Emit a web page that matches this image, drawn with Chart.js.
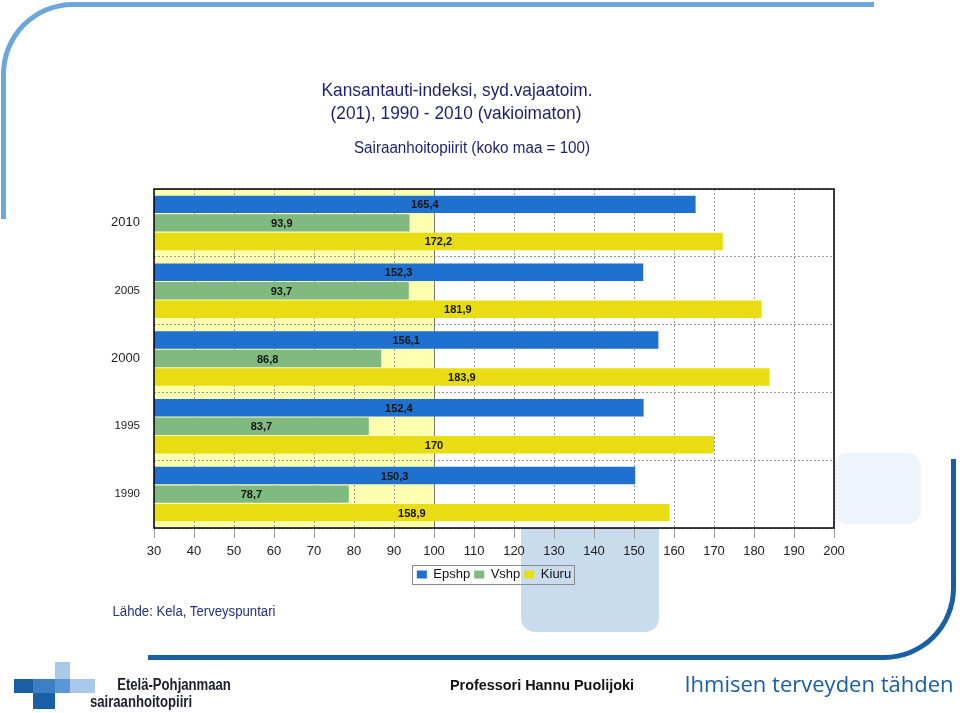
<!DOCTYPE html>
<html>
<head>
<meta charset="utf-8">
<script src="https://cdn.jsdelivr.net/npm/chart.js@4.4.1/dist/chart.umd.min.js"></script>
<style>
  html, body { margin: 0; padding: 0; background: #fff; }
  body { width: 960px; height: 713px; position: relative; overflow: hidden; font-family: 'Liberation Sans', Arial, sans-serif; }
  .deco { position: absolute; z-index: 0; }
  .txt { position: absolute; z-index: 2; white-space: nowrap; line-height: 1; }
  #c { position: absolute; left: 0; top: 0; z-index: 1; }
</style>
</head>
<body>
<!-- slide frame -->
<div class="deco" style="left:1px;top:2px;width:868px;height:212px;border-top:5px solid #6ba7da;border-left:5px solid #6ba7da;border-top-left-radius:72px;"></div>
<div class="deco" style="left:148px;top:459px;width:803px;height:196px;border-right:5px solid #1a5fa5;border-bottom:5px solid #1a5fa5;border-bottom-right-radius:72px;"></div>
<div class="deco" style="left:833px;top:453px;width:88px;height:71px;background:#eef4fb;border-radius:14px;"></div>
<div class="deco" style="left:521px;top:500px;width:138px;height:132px;background:#c9dcee;border-radius:14px;"></div>

<!-- logo -->
<div class="deco" style="left:55px;top:662px;width:15px;height:17px;background:#a9c8ea;"></div>
<div class="deco" style="left:14px;top:679px;width:19px;height:14px;background:#1a5fa5;"></div>
<div class="deco" style="left:33px;top:679px;width:22px;height:14px;background:#3b7fc4;"></div>
<div class="deco" style="left:55px;top:679px;width:15px;height:14px;background:#5b98d4;"></div>
<div class="deco" style="left:70px;top:679px;width:25px;height:14px;background:#a9c8ea;"></div>
<div class="deco" style="left:33px;top:693px;width:22px;height:16px;background:#1a5fa5;"></div>

<div class="txt" style="left:457px;top:80px;font-size:19px;color:#1f1f6e;transform:translateX(-50%) scaleX(0.91);">Kansantauti-indeksi, syd.vajaatoim.</div>
<div class="txt" style="left:456px;top:103px;font-size:19px;color:#1f1f6e;transform:translateX(-50%) scaleX(0.91);">(201), 1990 - 2010 (vakioimaton)</div>
<div class="txt" style="left:472px;top:140px;font-size:16px;color:#1f1f6e;transform:translateX(-50%) scaleX(0.95);">Sairaanhoitopiirit (koko maa = 100)</div>
<div class="txt" style="left:194px;top:604px;font-size:14px;color:#263080;transform:translateX(-50%) scaleX(0.94);">Lähde: Kela, Terveyspuntari</div>
<div class="txt" style="left:174px;top:677px;font-size:16px;font-weight:bold;color:#1c1c2c;transform:translateX(-50%) scaleX(0.82);">Etelä-Pohjanmaan</div>
<div class="txt" style="left:141px;top:694px;font-size:16px;font-weight:bold;color:#1c1c2c;transform:translateX(-50%) scaleX(0.82);">sairaanhoitopiiri</div>
<div class="txt" style="left:542px;top:677px;font-size:15px;font-weight:bold;color:#111;transform:translateX(-50%) scaleX(0.96);">Professori Hannu Puolijoki</div>
<div class="txt" style="left:819px;top:672px;font-size:22px;color:#1a5fa5;font-family:'Open Sans','Noto Sans',sans-serif;transform:translateX(-50%);">Ihmisen terveyden tähden</div>

<canvas id="c" width="960" height="713"></canvas>

<script>
const years = ['2010', '2005', '2000', '1995', '1990'];
const epshp = [165.4, 152.3, 156.1, 152.4, 150.3];
const vshp = [93.9, 93.7, 86.8, 83.7, 78.7];
const kiuru = [172.2, 181.9, 183.9, 170, 158.9];
const seriesNames = ['Epshp', 'Vshp', 'Kiuru'];
const axisMin = 30;
const axisMax = 200;
const axisStep = 10;
const wholeCountry = 100;

Chart.defaults.font.family = "'Liberation Sans', Arial, sans-serif";

function fmt(v) {
  return String(v).replace('.', ',');
}

// white plot background, pale band 30..100, bar labels, frame and legend box
const plotDecor = {
  id: 'plotDecor',
  beforeDraw(chart) {
    const { ctx, chartArea: a, scales: { x } } = chart;
    ctx.save();
    ctx.fillStyle = '#ffffff';
    ctx.fillRect(a.left, a.top, a.right - a.left, a.bottom - a.top);
    const x0 = x.getPixelForValue(axisMin);
    const x1 = x.getPixelForValue(wholeCountry);
    ctx.fillStyle = '#ffffb0';
    ctx.fillRect(x0, a.top, x1 - x0, a.bottom - a.top);
    ctx.restore();
  },
  beforeDatasetsDraw(chart) {
    const { ctx, chartArea: a, scales: { x } } = chart;
    const px = Math.round(x.getPixelForValue(wholeCountry)) + 0.5;
    ctx.save();
    ctx.strokeStyle = '#777';
    ctx.lineWidth = 1;
    ctx.beginPath();
    ctx.moveTo(px, a.top);
    ctx.lineTo(px, a.bottom);
    ctx.stroke();
    ctx.restore();
  },
  afterDatasetsDraw(chart) {
    const { ctx, chartArea: a } = chart;
    ctx.save();
    ctx.font = "bold 11px 'Liberation Sans', Arial, sans-serif";
    ctx.fillStyle = '#151515';
    ctx.textAlign = 'center';
    ctx.textBaseline = 'middle';
    chart.data.datasets.forEach((ds, i) => {
      chart.getDatasetMeta(i).data.forEach((bar, j) => {
        // centre of the visible part of the bar
        const cx = (Math.max(bar.base, a.left) + bar.x) / 2;
        ctx.fillText(fmt(ds.data[j]), cx, bar.y + 1);
      });
    });
    ctx.strokeStyle = '#000';
    ctx.lineWidth = 1.5;
    ctx.strokeRect(a.left, a.top, a.right - a.left, a.bottom - a.top);
    ctx.restore();
  },
  afterDraw(chart) {
    const boxes = chart.legend.legendHitBoxes;
    if (!boxes || !boxes.length) return;
    const l = Math.min(...boxes.map(b => b.left)) - 5;
    const r = Math.max(...boxes.map(b => b.left + b.width)) + 3;
    const t = Math.min(...boxes.map(b => b.top)) - 3;
    const btm = Math.max(...boxes.map(b => b.top + b.height)) + 3;
    const ctx = chart.ctx;
    ctx.save();
    ctx.strokeStyle = '#8a8a8a';
    ctx.lineWidth = 1;
    ctx.strokeRect(Math.round(l) + 0.5, Math.round(t) + 0.5, Math.round(r - l), Math.round(btm - t));
    ctx.restore();
  }
};

new Chart(document.getElementById('c'), {
  type: 'bar',
  data: {
    labels: years,
    datasets: [
      { label: seriesNames[0], data: epshp, backgroundColor: '#1f70cf' },
      { label: seriesNames[1], data: vshp, backgroundColor: '#80ba80' },
      { label: seriesNames[2], data: kiuru, backgroundColor: '#e8dc12' }
    ]
  },
  options: {
    indexAxis: 'y',
    responsive: false,
    animation: false,
    devicePixelRatio: 1,
    categoryPercentage: 0.82,
    barPercentage: 0.94,
    layout: { padding: { left: 20, right: 126, top: 189, bottom: 122 } },
    scales: {
      x: {
        min: axisMin,
        max: axisMax,
        afterFit: s => { s.height = 36; },
        ticks: { stepSize: axisStep, color: '#222', font: { size: 13 }, padding: 6 },
        grid: {
          color: '#9a9a9a',
          lineWidth: 1,
          borderDash: [2, 2],
          tickLength: 10,
          tickColor: '#999',
          tickBorderDash: []
        },
        border: { display: false, dash: [2, 2] }
      },
      y: {
        afterFit: s => { s.width = 134; },
        ticks: {
          color: '#222',
          padding: 14,
          font: c => ({ size: [13, 11.5, 13, 11.5, 11.5][c.index] || 12 })
        },
        grid: {
          color: '#9a9a9a',
          lineWidth: 1,
          borderDash: [2, 2],
          drawTicks: false
        },
        border: { display: false, dash: [2, 2] }
      }
    },
    plugins: {
      legend: {
        position: 'bottom',
        fullSize: false,
        labels: {
          boxWidth: 10,
          boxHeight: 8,
          padding: 4,
          color: '#111',
          font: { size: 13 }
        }
      },
      tooltip: { enabled: false }
    }
  },
  plugins: [plotDecor]
});
</script>
</body>
</html>
